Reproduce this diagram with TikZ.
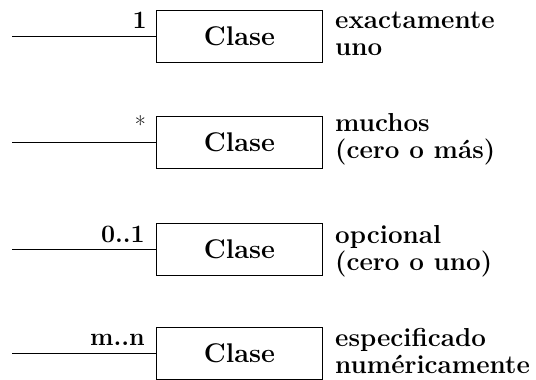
\documentclass[tikz,border=0pt]{standalone}
\begin{document}
\begin{tikzpicture}[x=1pt,y=-1pt,
  clase/.style={draw,line width=1pt,minimum width=166pt,minimum height=52pt,inner sep=0pt,
    font=\fontsize{27}{30}\selectfont\bfseries},
  mult/.style={anchor=base east,inner sep=0pt,font=\fontsize{25}{26}\selectfont\bfseries},
  desc/.style={anchor=base west,inner sep=0pt,align=left,
    font=\fontsize{26}{26.5}\selectfont\bfseries},
  conn/.style={line width=1pt}]
\useasboundingbox (0,0) rectangle (536,380);
% row 1
\node[clase,anchor=north west] (c1) at (156,10) {Clase};
\coordinate (s1) at (12,0 |- c1.west);
\draw[conn] (s1) -- (c1.west);
\node[mult] (m1) at (147,28) {1};
\node[desc] (d1) at (335,55) {exactamente\\uno};
% row 2
\node[clase,anchor=north west] (c2) at (156,116) {Clase};
\coordinate (s2) at (12,0 |- c2.west);
\draw[conn] (s2) -- (c2.west);
\node[anchor=north east,inner sep=0pt,font=\fontsize{24}{26}\selectfont] (m2) at (146,115) {*};
\node[desc] (d2) at (335,158) {muchos\\(cero o más)};
% row 3
\node[clase,anchor=north west] (c3) at (156,223) {Clase};
\coordinate (s3) at (12,0 |- c3.west);
\draw[conn] (s3) -- (c3.west);
\node[mult] (m3) at (145,242) {0..1};
\node[desc] (d3) at (335,270) {opcional\\(cero o uno)};
% row 4
\node[clase,anchor=north west] (c4) at (156,327) {Clase};
\coordinate (s4) at (12,0 |- c4.west);
\draw[conn] (s4) -- (c4.west);
\node[mult] (m4) at (145,345) {m..n};
\node[desc] (d4) at (335,373) {especificado\\numéricamente};
\end{tikzpicture}
\end{document}
